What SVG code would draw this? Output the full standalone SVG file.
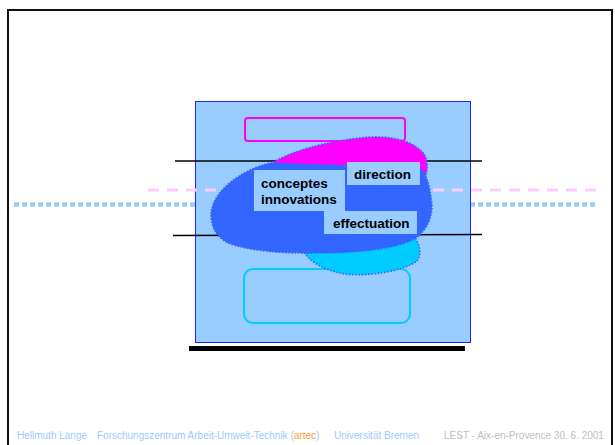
<svg xmlns="http://www.w3.org/2000/svg" width="615" height="445" viewBox="0 0 615 445">
<style>
.blob{stroke:#3366FF;stroke-width:1.6;stroke-dasharray:1.6 1.6}
.lbl{fill:#99CCFF}
.lt{font-family:"Liberation Sans",Arial,sans-serif;font-weight:bold;font-size:13.5px;fill:#000}
.ft{font-family:"Liberation Sans",Arial,sans-serif;font-size:10px}
.hl{stroke:#000;stroke-width:1.5}
</style>
<rect width="615" height="445" fill="#fff"/>
<g id="frame"><path d="M8,446 V10 H612 V446" fill="none" stroke="#111" stroke-width="2"/></g>
<g id="connectors">
<line x1="14" y1="204.5" x2="596" y2="204.5" stroke="#99CCFF" stroke-width="4.5" stroke-dasharray="5 3"/>
</g>
<g id="box">
<rect x="195.5" y="101.5" width="275" height="241" fill="#99CCFF" stroke="#2222FF" stroke-width="1"/>
</g>
<g id="lines">
<line x1="148" y1="190" x2="598" y2="190" stroke="#FFCCFF" stroke-width="3" stroke-dasharray="11 8"/>
<line class="hl" x1="175" y1="161" x2="482" y2="161"/>
<line class="hl" x1="173" y1="235.5" x2="482" y2="234.5"/>
</g>
<g id="upper-frame"><rect x="245" y="118" width="160" height="23" rx="3" fill="none" stroke="#FF00FF" stroke-width="2"/></g>
<g id="lower-frame"><rect x="244" y="269" width="166" height="54" rx="9" fill="none" stroke="#00CCFF" stroke-width="2"/></g>
<g id="blob">
<path class="blob" fill="#FF00FF" d="M268,166 C285,152 330,140 370,137 C395,136 415,142 424,154 C430,164 427,176 421,186 L330,186 Z"/>
<path class="blob" fill="#00CCFF" d="M300,244 C304,258 320,270 345,274 C372,277 405,270 417,261 C422,254 420,245 414,236 L330,236 Z"/>
<path class="blob" fill="#3366FF" d="M211,214 C212,192 240,170 270,163 L420,168 C426,172 430,185 432,205 C432,220 426,230 416,238 C400,248 360,253 320,253 C280,254 245,250 228,243 C215,236 211,226 211,214 Z"/>
</g>
<g id="label-conceptes">
<rect class="lbl" x="254" y="170" width="91" height="41"/>
<text class="lt" x="261" y="188">conceptes</text>
<text class="lt" x="261" y="204">innovations</text>
</g>
<g id="label-direction">
<rect class="lbl" x="347" y="162" width="73" height="23"/>
<text class="lt" x="354" y="179">direction</text>
</g>
<g id="label-effectuation">
<rect class="lbl" x="324" y="211" width="93" height="23"/>
<text class="lt" x="333" y="228">effectuation</text>
</g>
<g id="base"><rect x="189" y="346" width="276" height="5" fill="#000"/></g>
<g id="footer">
<text class="ft" x="17" y="439" fill="#99CCFF">Hellmuth Lange</text>
<text class="ft" x="97" y="439" fill="#99CCFF">Forschungszentrum Arbeit-Umwelt-Technik (<tspan fill="#FF9933">artec</tspan>)</text>
<text class="ft" x="334" y="439" fill="#99CCFF">Universität Bremen</text>
<text class="ft" x="444" y="439" fill="#C0C0C0">LEST - Aix-en-Provence 30. 6. 2001</text>
</g>
</svg>
